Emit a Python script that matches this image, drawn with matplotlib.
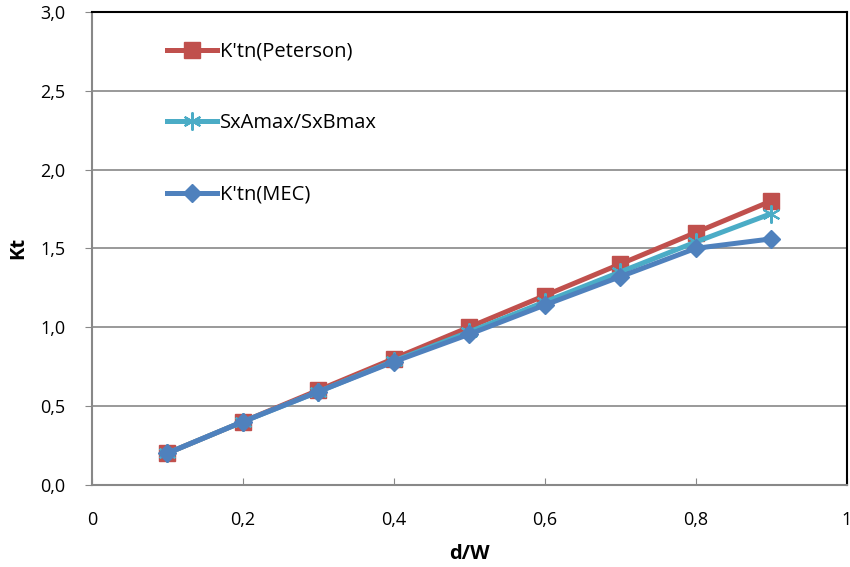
import matplotlib
matplotlib.use('Agg')
import matplotlib.pyplot as plt
import numpy as np

plt.rcParams['font.family'] = ['Open Sans', 'DejaVu Sans']

# data
d_w = [0.1, 0.2, 0.3, 0.4, 0.5, 0.6, 0.7, 0.8, 0.9]
kt_peterson = [0.20, 0.40, 0.60, 0.80, 1.00, 1.20, 1.40, 1.60, 1.80]
sxa_sxb = [0.20, 0.40, 0.59, 0.785, 0.97, 1.16, 1.35, 1.54, 1.72]
kt_mec = [0.20, 0.40, 0.59, 0.78, 0.955, 1.14, 1.32, 1.50, 1.56]

x_ticks = [0, 0.2, 0.4, 0.6, 0.8, 1.0]
x_ticklabels = ['0', '0,2', '0,4', '0,6', '0,8', '1']
y_ticks = [0, 0.5, 1.0, 1.5, 2.0, 2.5, 3.0]
y_ticklabels = ['0,0', '0,5', '1,0', '1,5', '2,0', '2,5', '3,0']

fig = plt.figure(figsize=(8.5, 5.67), dpi=100)
ax = fig.add_axes([0.108, 0.145, 0.888, 0.834])

ax.plot(d_w, kt_peterson, color='#C0504D', lw=3.6, marker='s', ms=11,
        label="K'tn(Peterson)", zorder=3)
ax.plot(d_w, sxa_sxb, color='#4BACC6', lw=3.6, marker=(6, 2, 0), ms=13, mew=1.5,
        label='SxAmax/SxBmax', zorder=4)
ax.plot(d_w, kt_mec, color='#4F81BD', lw=3.6, marker='D', ms=9,
        label="K'tn(MEC)", zorder=5)

ax.set_xlim(0, 1)
ax.set_ylim(0, 3)
ax.set_xticks(x_ticks)
ax.set_xticklabels(x_ticklabels)
ax.set_yticks(y_ticks)
ax.set_yticklabels(y_ticklabels)
ax.tick_params(axis='both', labelsize=13, colors='#888888', labelcolor='black')
ax.tick_params(axis='x', direction='in', length=5, pad=19)
ax.tick_params(axis='y', direction='out', length=5, pad=14)

ax.yaxis.grid(True, color='#888888', lw=1.2)
ax.set_axisbelow(True)
for s in ['left', 'bottom']:
    ax.spines[s].set_color('#888888')
    ax.spines[s].set_linewidth(1.5)
for s in ['top', 'right']:
    ax.spines[s].set_color('black')
    ax.spines[s].set_linewidth(1.5)

ax.set_xlabel('d/W', fontsize=14.5, fontweight='bold', labelpad=11)
ax.set_ylabel('Kt', fontsize=14.5, fontweight='bold', labelpad=9)

ax.legend(loc='upper left', bbox_to_anchor=(0.075, 0.975), frameon=False,
          fontsize=14.5, labelspacing=2.55, handlelength=2.5, handletextpad=0.15)

fig.savefig('out.png', dpi=100)
